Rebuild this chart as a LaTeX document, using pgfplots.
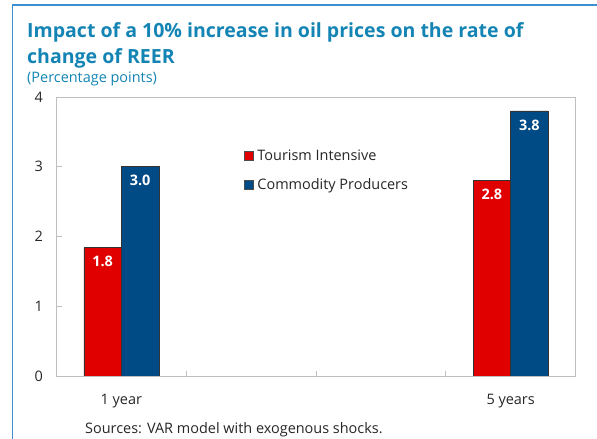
\documentclass[border=0pt]{standalone}
\usepackage{fontspec}
\setmainfont{Open Sans}
\usepackage{pgfplots}
\pgfplotsset{compat=1.18}
\definecolor{ttl}{HTML}{1384B4}
\definecolor{frm}{HTML}{3D8FD1}
\definecolor{tred}{HTML}{E00000}
\definecolor{cblue}{HTML}{004A86}
\definecolor{txt}{HTML}{262626}
\definecolor{axg}{HTML}{BFBFBF}
\begin{document}
\begin{tikzpicture}
\path[use as bounding box] (0,0) rectangle (597bp,439bp);
\draw[frm, line width=1.2bp] (12.5bp,0) -- (12.5bp,434bp) -- (597bp,434bp);
\node[anchor=base west, text=ttl, font=\fontsize{19.6}{23}\selectfont\bfseries, inner sep=0] at (27bp,401bp) {Impact of a 10\% increase in oil prices on the rate of};
\node[anchor=base west, text=ttl, font=\fontsize{19.6}{23}\selectfont\bfseries, inner sep=0] at (27bp,375.5bp) {change of REER};
\node[anchor=base west, text=ttl, font=\fontsize{14.5}{17}\selectfont, inner sep=0] at (27bp,356bp) {(Percentage points)};
\node[anchor=base west, text=txt, font=\fontsize{14.5}{17}\selectfont, inner sep=0] at (85bp,5.5bp) {Sources: VAR model with exogenous shocks.};
\begin{axis}[
  at={(56.5bp,63bp)}, anchor=south west, scale only axis,
  width=519bp, height=279bp,
  ybar=0pt, bar width=37.5bp,
  xmin=-0.5, xmax=3.5, ymin=0, ymax=4,
  axis line style={axg, line width=0.8pt},
  xtick={0.5,1.5,2.5}, xticklabels={},
  extra x ticks={0,3}, extra x tick labels={1 year,5 years},
  extra x tick style={major tick length=0pt, xticklabel style={yshift=-15bp}},
  ytick={0,1,2,3,4},
  xtick pos=lower, ytick pos=left,
  tick align=inside, major tick length=5bp,
  tick style={axg, line width=0.8pt},
  ticklabel style={text=txt, font=\fontsize{14.5}{17}\selectfont},
  yticklabel style={xshift=-10bp},
  /pgf/number format/assume math mode=true,
  nodes near coords,
  nodes near coords style={anchor=north, text=white, font=\fontsize{14.5}{17}\selectfont\bfseries, yshift=-5bp,
    /pgf/number format/.cd, fixed, fixed zerofill, precision=1},
  legend image code/.code={\draw[#1, draw=black!70, line width=0.5pt] (0bp,-4.5bp) rectangle (9bp,4.5bp);},
  legend style={at={(0.355,0.827)}, anchor=north west, draw=none, fill=none,
    font=\fontsize{14.5}{17}\selectfont, text=txt, row sep=13bp,
    /tikz/every even column/.append style={column sep=4bp}},
  legend cell align=left,
  /tikz/every odd column/.append style={column sep=2bp},
]
\addplot[fill=tred, draw=black!80, line width=0.6pt] coordinates {(0,1.84) (3,2.8)};
\addplot[fill=cblue, draw=black!80, line width=0.6pt] coordinates {(0,3.0) (3,3.8)};
\legend{Tourism Intensive, Commodity Producers}
\end{axis}
\end{tikzpicture}
\end{document}
